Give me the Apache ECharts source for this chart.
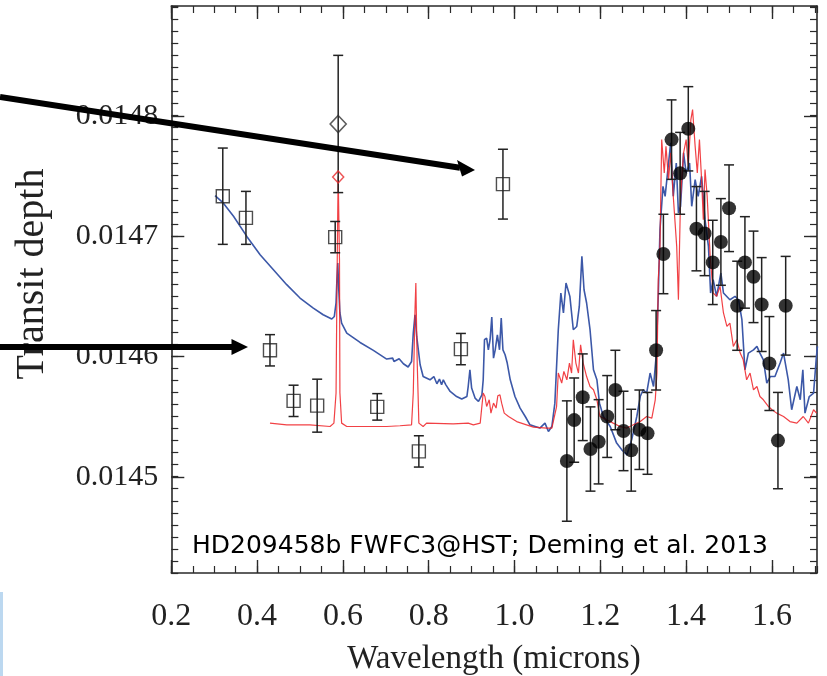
<!DOCTYPE html>
<html>
<head>
<meta charset="utf-8">
<script src="https://cdn.jsdelivr.net/npm/echarts@6/dist/echarts.min.js"></script>
<style>
html,body{margin:0;padding:0;background:#fff;}
#chart{width:827px;height:676px;}
</style>
</head>
<body>
<div id="chart"></div>
<script>
// ---------- data ----------
var xMajorTicks = [0.2, 0.4, 0.6, 0.8, 1.0, 1.2, 1.4, 1.6];
var yMajorTicks = [0.0145, 0.0146, 0.0147, 0.0148];

// ground / visible photometry (open squares): [wavelength, depth, error]
var squares = [
  [0.320, 0.014733, 0.000040],
  [0.374, 0.014715, 0.000022],
  [0.430, 0.014605, 0.000013],
  [0.485, 0.014563, 0.000013],
  [0.540, 0.014559, 0.000022],
  [0.582, 0.014699, 0.000013],
  [0.680, 0.014558, 0.000011],
  [0.777, 0.014521, 0.000013],
  [0.875, 0.014606, 0.000013],
  [0.973, 0.014743, 0.000029]
];
// sodium point (black diamond with error) and model value (red diamond)
var naPoint = [[0.589, 0.014793, 0.000057]];
var naModel = [[0.589, 0.014749]];

// WFC3 spectrum (filled circles): [wavelength, depth, error]
var wfc3 = [
  [1.122, 0.014513, 0.000050],
  [1.139, 0.014547, 0.000035],
  [1.159, 0.014566, 0.000036],
  [1.177, 0.014523, 0.000035],
  [1.196, 0.014529, 0.000035],
  [1.216, 0.014550, 0.000034],
  [1.235, 0.014572, 0.000033],
  [1.254, 0.014538, 0.000033],
  [1.272, 0.014522, 0.000034],
  [1.291, 0.014539, 0.000033],
  [1.310, 0.014536, 0.000034],
  [1.330, 0.014605, 0.000033],
  [1.347, 0.014685, 0.000033],
  [1.366, 0.014780, 0.000033],
  [1.386, 0.014752, 0.000034],
  [1.405, 0.014789, 0.000035],
  [1.424, 0.014706, 0.000035],
  [1.443, 0.014702, 0.000035],
  [1.462, 0.014678, 0.000035],
  [1.481, 0.014695, 0.000036],
  [1.500, 0.014723, 0.000036],
  [1.519, 0.014642, 0.000037],
  [1.537, 0.014678, 0.000038],
  [1.557, 0.014666, 0.000038],
  [1.576, 0.014643, 0.000039],
  [1.594, 0.014594, 0.000039],
  [1.614, 0.014530, 0.000040],
  [1.632, 0.014642, 0.000041]
];

// blue model spectrum: [wavelength, depth]
var blueModel = [
  [0.302,0.0147335],[0.321,0.0147274],[0.345,0.0147163],[0.376,0.0146996],[0.407,0.0146844],
  [0.438,0.0146719],[0.469,0.0146595],[0.500,0.0146484],[0.531,0.0146401],[0.554,0.0146345],
  [0.574,0.0146310],[0.580,0.0146331],[0.584,0.0146445],[0.586,0.0146636],[0.588,0.0146775],
  [0.590,0.0146581],[0.593,0.0146362],[0.597,0.0146276],[0.609,0.0146193],[0.640,0.0146115],
  [0.671,0.0146049],[0.702,0.0145977],[0.716,0.0145985],[0.719,0.0145957],[0.731,0.0145980],
  [0.741,0.0145938],[0.752,0.0145911],[0.760,0.0145957],[0.764,0.0146193],[0.768,0.0146345],
  [0.772,0.0146165],[0.780,0.0145930],[0.787,0.0145832],[0.803,0.0145805],[0.812,0.0145832],
  [0.819,0.0145772],[0.825,0.0145811],[0.830,0.0145763],[0.834,0.0145805],[0.840,0.0145763],
  [0.850,0.0145708],[0.865,0.0145666],[0.877,0.0145645],[0.889,0.0145666],[0.892,0.0145749],
  [0.896,0.0145888],[0.900,0.0145736],[0.908,0.0145653],[0.916,0.0145625],[0.924,0.0145680],
  [0.927,0.0145805],[0.930,0.0146138],[0.935,0.0146152],[0.939,0.0146054],[0.943,0.0146138],
  [0.947,0.0146326],[0.951,0.0145985],[0.955,0.0146054],[0.960,0.0146179],[0.965,0.0146054],
  [0.969,0.0146318],[0.973,0.0146054],[0.978,0.0146013],[0.983,0.0145944],[0.990,0.0145805],
  [1.001,0.0145666],[1.013,0.0145570],[1.025,0.0145500],[1.036,0.0145431],[1.048,0.0145417],
  [1.059,0.0145404],[1.071,0.0145445],[1.079,0.0145375],[1.087,0.0145417],[1.094,0.0145611],
  [1.102,0.0146221],[1.108,0.0146526],[1.114,0.0146360],[1.120,0.0146609],[1.129,0.0146498],
  [1.137,0.0146221],[1.145,0.0146248],[1.151,0.0146414],[1.157,0.0146830],[1.162,0.0146553],
  [1.168,0.0146443],[1.176,0.0146221],[1.184,0.0145888],[1.192,0.0145805],[1.198,0.0145611],
  [1.207,0.0145500],[1.223,0.0145417],[1.238,0.0145279],[1.250,0.0145223],[1.262,0.0145182],
  [1.273,0.0145306],[1.285,0.0145500],[1.293,0.0145666],[1.300,0.0145722],[1.308,0.0145694],
  [1.316,0.0145861],[1.324,0.0145749],[1.330,0.0145999],[1.335,0.0146498],[1.339,0.0147052],
  [1.346,0.0147412],[1.351,0.0147329],[1.359,0.0147606],[1.364,0.0147773],[1.370,0.0147329],
  [1.377,0.0147606],[1.382,0.0147191],[1.387,0.0147246],[1.394,0.0147690],[1.400,0.0147523],
  [1.408,0.0147606],[1.413,0.0147246],[1.421,0.0147468],[1.428,0.0147329],[1.436,0.0147495],
  [1.444,0.0147135],[1.452,0.0146913],[1.457,0.0146526],[1.463,0.0146636],[1.471,0.0146498],
  [1.481,0.0146692],[1.487,0.0146526],[1.502,0.0146470],[1.514,0.0146498],[1.522,0.0146470],
  [1.530,0.0146304],[1.537,0.0145888],[1.545,0.0146027],[1.557,0.0146054],[1.565,0.0146082],
  [1.572,0.0146027],[1.580,0.0145971],[1.588,0.0145778],[1.596,0.0145832],[1.607,0.0145832],
  [1.619,0.0145944],[1.627,0.0146027],[1.638,0.0145805],[1.646,0.0145556],[1.658,0.0145749],
  [1.666,0.0145639],[1.672,0.0145888],[1.677,0.0145528],[1.687,0.0145666],[1.697,0.0145694],
  [1.703,0.0145971],[1.706,0.0146082]
];

// red model spectrum: [wavelength, depth]
var redModel = [
  [0.430,0.0145445],[0.469,0.0145431],[0.523,0.0145431],[0.570,0.0145417],[0.579,0.0145445],
  [0.584,0.0145695],[0.586,0.0146526],[0.588,0.0147218],[0.589,0.0147495],[0.592,0.0146803],
  [0.593,0.0145697],[0.597,0.0145445],[0.609,0.0145417],[0.656,0.0145417],[0.702,0.0145417],
  [0.733,0.0145423],[0.760,0.0145431],[0.764,0.0145695],[0.768,0.0146387],[0.770,0.0146609],
  [0.773,0.0145971],[0.777,0.0145445],[0.787,0.0145417],[0.795,0.0145445],[0.857,0.0145439],
  [0.892,0.0145445],[0.896,0.0145458],[0.904,0.0145431],[0.920,0.0145445],[0.927,0.0145695],
  [0.931,0.0145666],[0.935,0.0145583],[0.941,0.0145639],[0.945,0.0145528],[0.951,0.0145611],
  [0.957,0.0145570],[0.961,0.0145672],[0.966,0.0145680],[0.970,0.0145611],[0.976,0.0145528],
  [0.986,0.0145500],[1.005,0.0145458],[1.028,0.0145431],[1.044,0.0145412],[1.075,0.0145404],
  [1.087,0.0145404],[1.098,0.0145583],[1.102,0.0145861],[1.106,0.0145861],[1.110,0.0145778],
  [1.115,0.0145874],[1.122,0.0145805],[1.128,0.0145944],[1.133,0.0145861],[1.137,0.0146138],
  [1.143,0.0145944],[1.149,0.0145861],[1.154,0.0146096],[1.160,0.0145944],[1.168,0.0145832],
  [1.176,0.0145749],[1.184,0.0145722],[1.192,0.0145639],[1.199,0.0145500],[1.215,0.0145473],
  [1.230,0.0145445],[1.246,0.0145417],[1.262,0.0145404],[1.277,0.0145431],[1.293,0.0145458],
  [1.308,0.0145500],[1.320,0.0145487],[1.328,0.0145639],[1.332,0.0145861],[1.335,0.0146636],
  [1.339,0.0146913],[1.343,0.0147800],[1.349,0.0147523],[1.353,0.0147744],[1.359,0.0147468],
  [1.364,0.0147690],[1.370,0.0147329],[1.378,0.0146913],[1.382,0.0146470],[1.387,0.0147329],
  [1.394,0.0147690],[1.400,0.0147800],[1.405,0.0147578],[1.411,0.0147966],[1.415,0.0148050],
  [1.421,0.0147744],[1.426,0.0147523],[1.431,0.0147800],[1.436,0.0147468],[1.440,0.0147135],
  [1.444,0.0147551],[1.449,0.0147329],[1.456,0.0146830],[1.463,0.0146526],[1.471,0.0146498],
  [1.479,0.0146581],[1.487,0.0146360],[1.495,0.0146248],[1.502,0.0146276],[1.510,0.0146082],
  [1.518,0.0146138],[1.526,0.0146027],[1.533,0.0145971],[1.541,0.0145805],[1.549,0.0145861],
  [1.557,0.0145722],[1.565,0.0145749],[1.572,0.0145666],[1.580,0.0145639],[1.592,0.0145583],
  [1.600,0.0145556],[1.611,0.0145528],[1.627,0.0145500],[1.642,0.0145458],[1.658,0.0145445],
  [1.673,0.0145500],[1.685,0.0145445],[1.697,0.0145556],[1.704,0.0145528]
];

var xRange = [0.2, 1.705];
var yRange = [0.01442, 0.014891];
var annotation = 'HD209458b FWFC3@HST; Deming et al. 2013';
var xTitle = 'Wavelength (microns)';
var yTitle = 'Transit depth';

// ---------- chart ----------
var chart = echarts.init(document.getElementById('chart'), null, {renderer: 'canvas'});

var AX = '#2a2a2a';
var SERIF = "'Liberation Serif', 'Times New Roman', serif";

function errBar(capHalf) {
  return function (params, api) {
    var x = api.value(0), y = api.value(1), e = api.value(2);
    var t = api.coord([x, y + e]), b = api.coord([x, y - e]);
    var st = {stroke: '#222', lineWidth: 1.5};
    return {type: 'group', children: [
      {type: 'line', shape: {x1: t[0], y1: t[1], x2: b[0], y2: b[1]}, style: st},
      {type: 'line', shape: {x1: t[0] - capHalf, y1: t[1], x2: t[0] + capHalf, y2: t[1]}, style: st},
      {type: 'line', shape: {x1: b[0] - capHalf, y1: b[1], x2: b[0] + capHalf, y2: b[1]}, style: st}
    ]};
  };
}

var gMain = {left: 171.3, right: 10, top: 6, bottom: 103};
// helper grids carry the long (major) ticks and labels at the exact tick positions
var gXMaj = {left: 171.3, right: 55.1, top: 6, bottom: 103};
var gYMaj = {left: 171.3, right: 10, top: 116, bottom: 199.2};

var minorTick = {show: true, inside: true, length: 7, lineStyle: {color: AX, width: 1.2}};
var majorTick = {show: true, inside: true, length: 13, lineStyle: {color: AX, width: 1.4}};
var frameLine = {show: true, onZero: false, lineStyle: {color: AX, width: 1.6}};

var option = {
  backgroundColor: '#fff',
  animation: false,
  grid: [
    Object.assign({}, gMain),
    Object.assign({}, gXMaj),
    Object.assign({}, gYMaj)
  ],
  xAxis: [
    {gridIndex: 0, type: 'value', position: 'bottom', min: xRange[0], max: xRange[1], interval: 0.05,
     axisLine: frameLine, axisTick: minorTick, axisLabel: {show: false}, splitLine: {show: false}},
    {gridIndex: 0, type: 'value', position: 'top', min: xRange[0], max: xRange[1], interval: 0.05,
     axisLine: frameLine, axisTick: minorTick, axisLabel: {show: false}, splitLine: {show: false}},
    {gridIndex: 1, type: 'value', position: 'bottom', min: xMajorTicks[0], max: xMajorTicks[xMajorTicks.length - 1], interval: 0.2,
     axisLine: {show: false}, axisTick: majorTick, splitLine: {show: false},
     axisLabel: {show: true, margin: 28, color: '#222', fontFamily: SERIF, fontSize: 32,
       formatter: function (v) { return v.toFixed(1); }}},
    {gridIndex: 1, type: 'value', position: 'top', min: xMajorTicks[0], max: xMajorTicks[xMajorTicks.length - 1], interval: 0.2,
     axisLine: {show: false}, axisTick: majorTick, axisLabel: {show: false}, splitLine: {show: false}},
    {gridIndex: 2, type: 'value', show: false, min: 0, max: 1}
  ],
  yAxis: [
    {gridIndex: 0, type: 'value', position: 'left', min: yRange[0], max: yRange[1], interval: 0.00001,
     axisLine: frameLine, axisTick: minorTick, axisLabel: {show: false}, splitLine: {show: false}},
    {gridIndex: 0, type: 'value', position: 'right', min: yRange[0], max: yRange[1], interval: 0.00001,
     axisLine: frameLine, axisTick: minorTick, axisLabel: {show: false}, splitLine: {show: false}},
    {gridIndex: 1, type: 'value', show: false, min: 0, max: 1},
    {gridIndex: 2, type: 'value', position: 'left', min: yMajorTicks[0], max: yMajorTicks[yMajorTicks.length - 1], interval: 0.0001,
     axisLine: {show: false}, axisTick: majorTick, splitLine: {show: false},
     axisLabel: {show: true, margin: 13, color: '#222', fontFamily: SERIF, fontSize: 30,
       padding: [6, 0, 0, 0],
       formatter: function (v) { return v.toFixed(4); }}},
    {gridIndex: 2, type: 'value', position: 'right', min: yMajorTicks[0], max: yMajorTicks[yMajorTicks.length - 1], interval: 0.0001,
     axisLine: {show: false}, axisTick: majorTick, axisLabel: {show: false}, splitLine: {show: false}}
  ],
  series: [
    {name: 'blue model', type: 'line', xAxisIndex: 0, yAxisIndex: 0, data: blueModel,
     showSymbol: false, symbol: 'none', clip: true, z: 2,
     lineStyle: {color: '#3c58a8', width: 1.6}},
    {name: 'red model', type: 'line', xAxisIndex: 0, yAxisIndex: 0, data: redModel,
     showSymbol: false, symbol: 'none', clip: true, z: 3,
     lineStyle: {color: 'rgba(238,32,36,0.85)', width: 1.2}},
    {name: 'square errors', type: 'custom', xAxisIndex: 0, yAxisIndex: 0, data: squares,
     encode: {x: 0, y: 1}, renderItem: errBar(5), z: 4},
    {name: 'Na errors', type: 'custom', xAxisIndex: 0, yAxisIndex: 0, data: naPoint,
     encode: {x: 0, y: 1}, renderItem: errBar(5), z: 4},
    {name: 'wfc3 errors', type: 'custom', xAxisIndex: 0, yAxisIndex: 0, data: wfc3,
     encode: {x: 0, y: 1}, renderItem: errBar(5), z: 4},
    {name: 'squares', type: 'scatter', xAxisIndex: 0, yAxisIndex: 0, data: squares,
     symbol: 'rect', symbolSize: 13, z: 5,
     itemStyle: {color: 'rgba(255,255,255,0)', borderColor: '#222', borderWidth: 1.4}},
    {name: 'Na point', type: 'scatter', xAxisIndex: 0, yAxisIndex: 0, data: naPoint,
     symbol: 'diamond', symbolSize: [16, 17], z: 5,
     itemStyle: {color: 'rgba(255,255,255,0)', borderColor: '#333', borderWidth: 1.6}},
    {name: 'Na model', type: 'scatter', xAxisIndex: 0, yAxisIndex: 0, data: naModel,
     symbol: 'diamond', symbolSize: [11, 12], z: 5,
     itemStyle: {color: 'rgba(255,255,255,0)', borderColor: '#e8282b', borderWidth: 1.5}},
    {name: 'wfc3', type: 'scatter', xAxisIndex: 0, yAxisIndex: 0, data: wfc3,
     symbol: 'circle', symbolSize: 14, z: 6,
     itemStyle: {color: '#000'}}
  ],
  graphic: [
    {type: 'rect', shape: {x: 0, y: 592, width: 3, height: 84}, style: {fill: '#bcd8f0'}, z: 1},
    {type: 'text', x: 192, y: 546, z: 20,
     style: {text: annotation, font: "25px 'DejaVu Sans', sans-serif", fill: '#000',
             textAlign: 'left', textVerticalAlign: 'middle', verticalAlign: 'middle'}},
    {type: 'text', x: 494, y: 659, z: 20,
     style: {text: xTitle, font: "33px " + SERIF, fill: '#222',
             textAlign: 'center', textVerticalAlign: 'middle', verticalAlign: 'middle'}},
    {type: 'text', x: 32, y: 274, rotation: Math.PI / 2, z: 20,
     style: {text: yTitle, font: "40px " + SERIF, fill: '#222',
             textAlign: 'center', textVerticalAlign: 'middle', verticalAlign: 'middle'}},
    // annotation arrows
    {type: 'line', z: 30, shape: {x1: 0, y1: 97, x2: 460, y2: 167.7},
     style: {stroke: '#000', lineWidth: 6}},
    {type: 'polygon', z: 30, shape: {points: [[475, 170], [457, 160], [462, 176.5]]},
     style: {fill: '#000'}},
    {type: 'line', z: 30, shape: {x1: 0, y1: 347, x2: 234, y2: 347},
     style: {stroke: '#000', lineWidth: 6}},
    {type: 'polygon', z: 30, shape: {points: [[248, 347], [231.5, 339], [231.5, 355]]},
     style: {fill: '#000'}}
  ]
};

chart.setOption(option);
</script>
</body>
</html>
